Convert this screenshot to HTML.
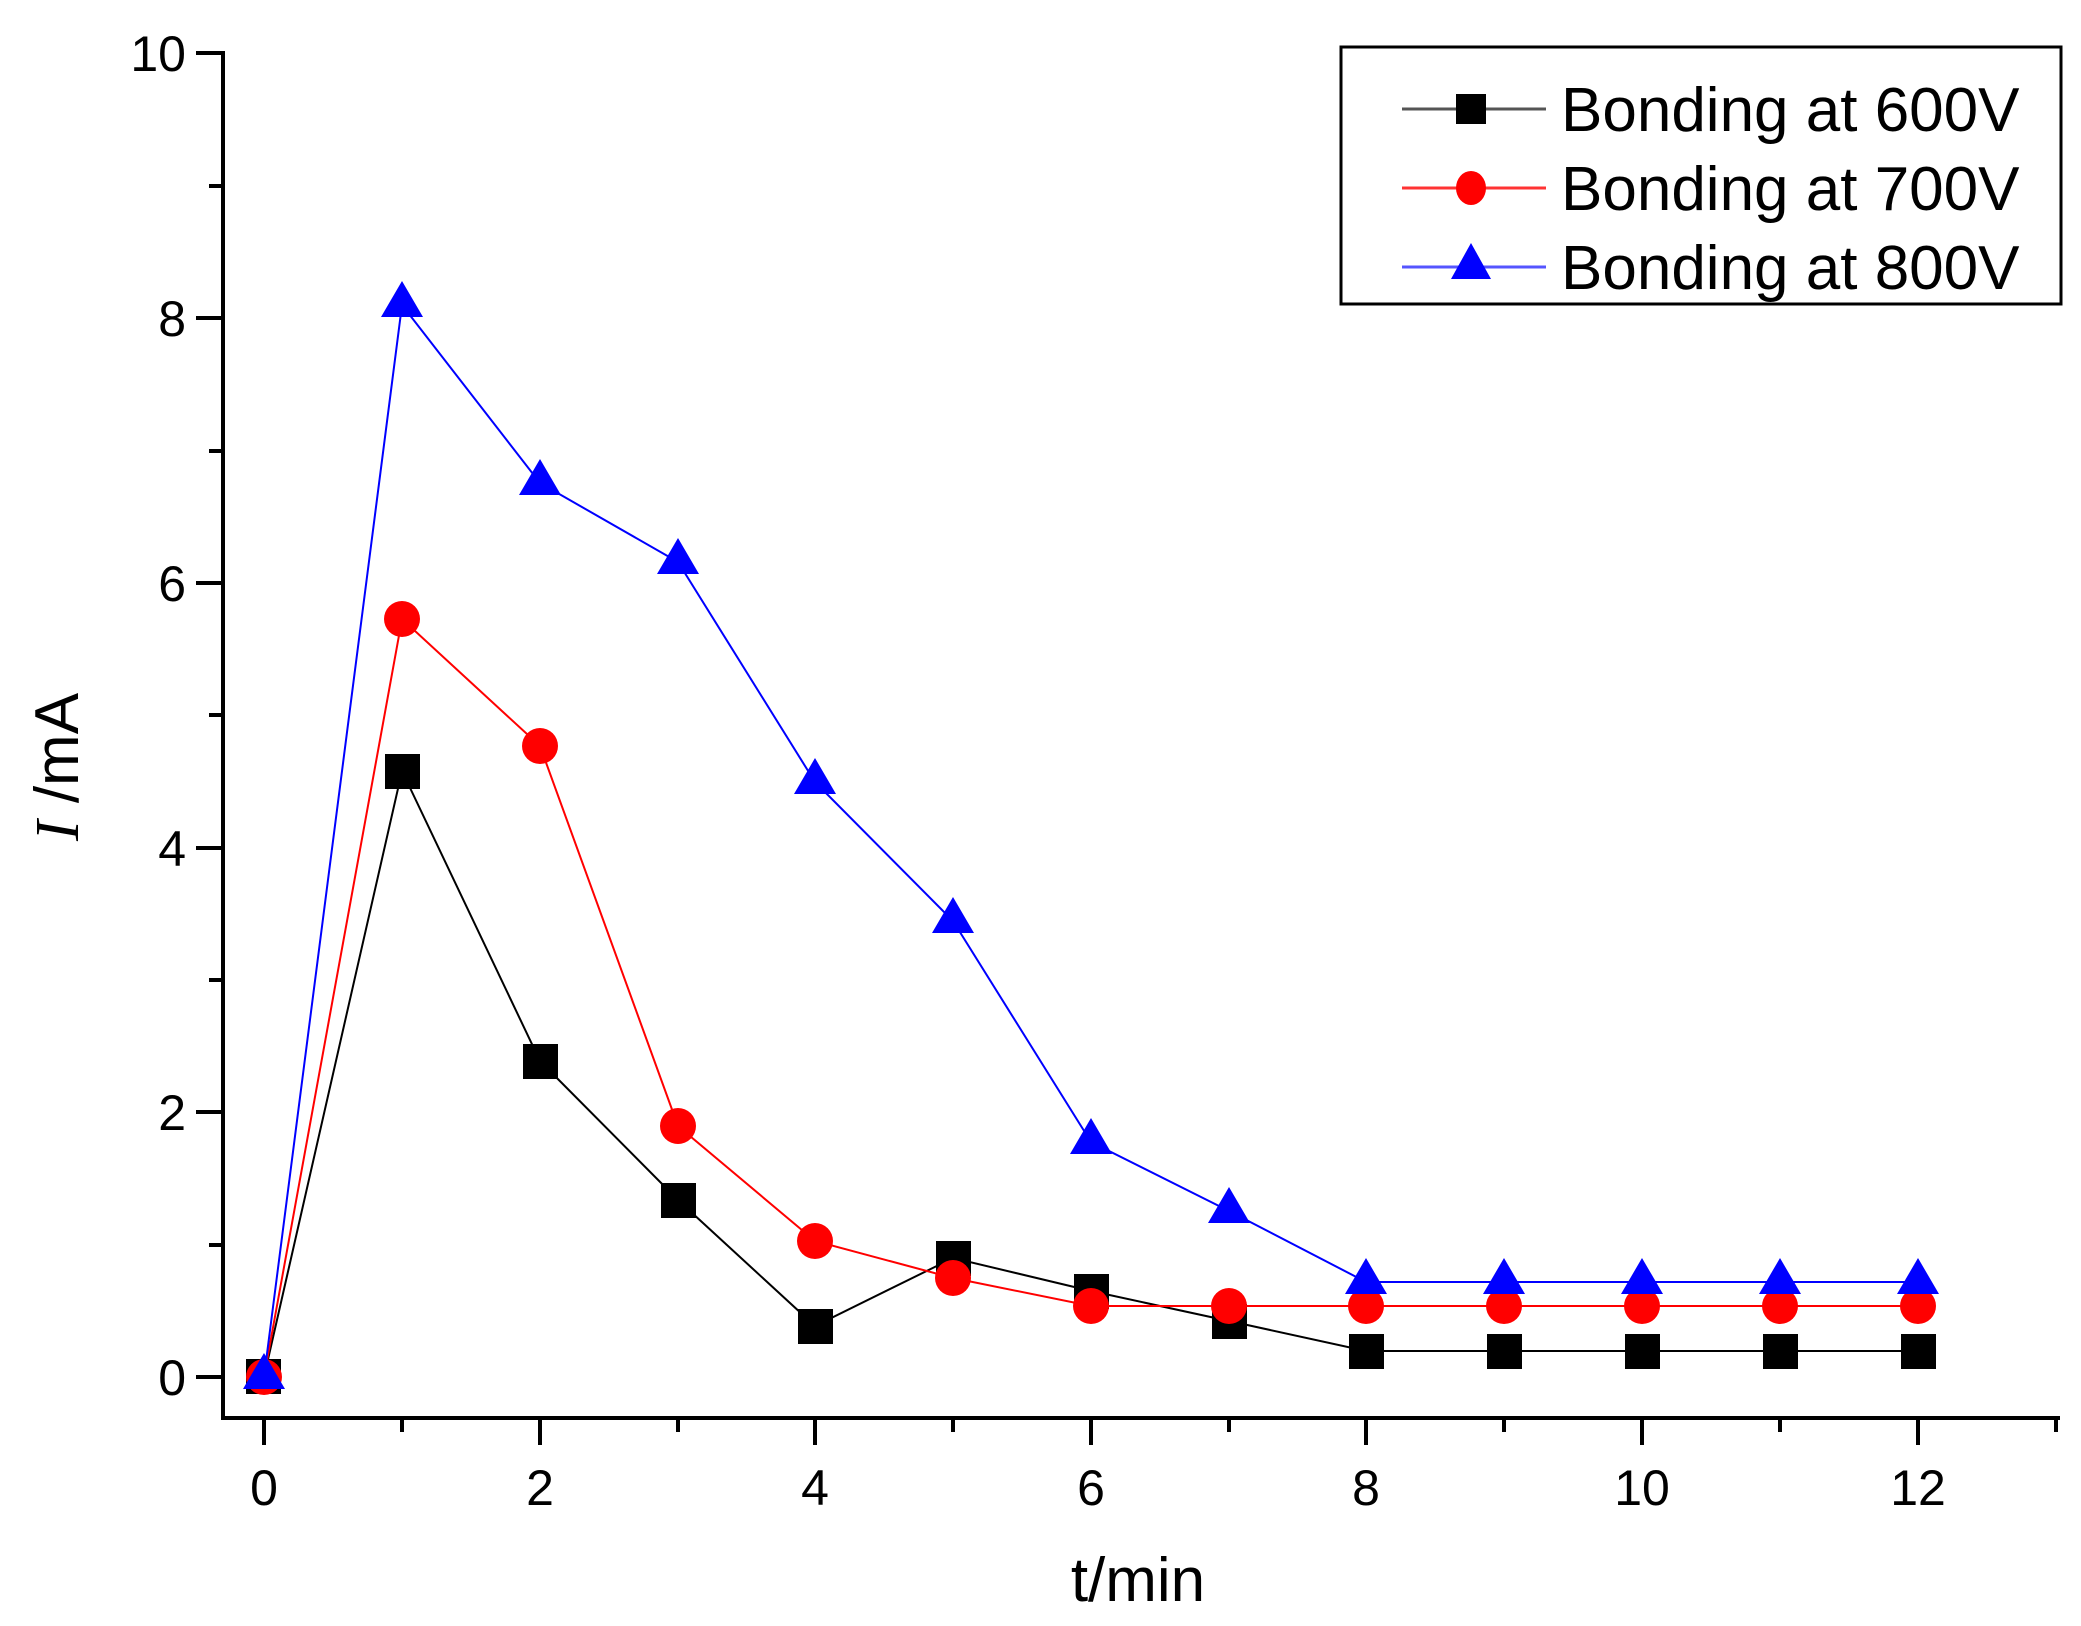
<!DOCTYPE html>
<html><head><meta charset="utf-8"><style>html,body{margin:0;padding:0;background:#fff}svg{display:block}</style></head><body>
<svg width="2081" height="1626" xmlns="http://www.w3.org/2000/svg" font-family="Liberation Sans, Arial, sans-serif">
<rect width="2081" height="1626" fill="#fff"/>
<g stroke="#000" stroke-width="4" fill="none">
<line x1="223" y1="51" x2="223" y2="1420"/>
<line x1="221" y1="1418" x2="2060" y2="1418"/>
</g>
<g stroke="#000" stroke-width="4">
<line x1="196" y1="53" x2="223" y2="53"/>
<line x1="196" y1="318" x2="223" y2="318"/>
<line x1="196" y1="583" x2="223" y2="583"/>
<line x1="196" y1="848" x2="223" y2="848"/>
<line x1="196" y1="1112" x2="223" y2="1112"/>
<line x1="196" y1="1377" x2="223" y2="1377"/>
<line x1="209" y1="186" x2="223" y2="186"/>
<line x1="209" y1="451" x2="223" y2="451"/>
<line x1="209" y1="715" x2="223" y2="715"/>
<line x1="209" y1="980" x2="223" y2="980"/>
<line x1="209" y1="1245" x2="223" y2="1245"/>
<line x1="264" y1="1418" x2="264" y2="1445"/>
<line x1="540" y1="1418" x2="540" y2="1445"/>
<line x1="815" y1="1418" x2="815" y2="1445"/>
<line x1="1091" y1="1418" x2="1091" y2="1445"/>
<line x1="1366" y1="1418" x2="1366" y2="1445"/>
<line x1="1642" y1="1418" x2="1642" y2="1445"/>
<line x1="1918" y1="1418" x2="1918" y2="1445"/>
<line x1="402" y1="1418" x2="402" y2="1432"/>
<line x1="678" y1="1418" x2="678" y2="1432"/>
<line x1="953" y1="1418" x2="953" y2="1432"/>
<line x1="1229" y1="1418" x2="1229" y2="1432"/>
<line x1="1504" y1="1418" x2="1504" y2="1432"/>
<line x1="1780" y1="1418" x2="1780" y2="1432"/>
<line x1="2056" y1="1418" x2="2056" y2="1432"/>
</g>
<g font-size="50" fill="#000" text-anchor="end">
<text x="186" y="71">10</text>
<text x="186" y="336">8</text>
<text x="186" y="601">6</text>
<text x="186" y="866">4</text>
<text x="186" y="1130">2</text>
<text x="186" y="1395">0</text>
</g>
<g font-size="50" fill="#000" text-anchor="middle">
<text x="264" y="1505">0</text>
<text x="540" y="1505">2</text>
<text x="815" y="1505">4</text>
<text x="1091" y="1505">6</text>
<text x="1366" y="1505">8</text>
<text x="1642" y="1505">10</text>
<text x="1918" y="1505">12</text>
</g>
<text x="1138" y="1601" font-size="62" text-anchor="middle">t/min</text>
<text transform="translate(78,767) rotate(-90)" font-size="62" text-anchor="middle"><tspan font-family="Liberation Serif, serif" font-style="italic">I</tspan> /mA</text>

<polyline fill="none" stroke="#000" stroke-width="2" points="264,1377 402,771 540,1061 678,1200 815,1326 953,1258 1091,1291 1229,1321 1366,1351 1504,1351 1642,1351 1780,1351 1918,1351"/>
<g fill="#000">
<rect x="246" y="1359" width="35" height="35"/><rect x="385" y="754" width="35" height="35"/><rect x="523" y="1044" width="35" height="35"/><rect x="661" y="1183" width="35" height="35"/><rect x="798" y="1309" width="35" height="35"/><rect x="936" y="1241" width="35" height="35"/><rect x="1074" y="1274" width="35" height="35"/><rect x="1212" y="1304" width="35" height="35"/><rect x="1349" y="1334" width="35" height="35"/><rect x="1487" y="1334" width="35" height="35"/><rect x="1625" y="1334" width="35" height="35"/><rect x="1763" y="1334" width="35" height="35"/><rect x="1901" y="1334" width="35" height="35"/>
</g>
<polyline fill="none" stroke="#f00" stroke-width="2" points="264,1377 402,619 540,746 678,1126 815,1241 953,1278 1091,1306 1229,1306 1366,1306 1504,1306 1642,1306 1780,1306 1918,1306"/>
<g fill="#f00">
<circle cx="264" cy="1377" r="18"/><circle cx="402" cy="619" r="18"/><circle cx="540" cy="746" r="18"/><circle cx="678" cy="1126" r="18"/><circle cx="815" cy="1241" r="18"/><circle cx="953" cy="1278" r="18"/><circle cx="1091" cy="1306" r="18"/><circle cx="1229" cy="1306" r="18"/><circle cx="1366" cy="1306" r="18"/><circle cx="1504" cy="1306" r="18"/><circle cx="1642" cy="1306" r="18"/><circle cx="1780" cy="1306" r="18"/><circle cx="1918" cy="1306" r="18"/>
</g>
<polyline fill="none" stroke="#00f" stroke-width="2" points="264,1377 402,305 540,483 678,562 815,782 953,921 1091,1142 1229,1211 1366,1282 1504,1282 1642,1282 1780,1282 1918,1282"/>
<g fill="#00f">
<polygon points="264,1353 285,1389 243,1389"/><polygon points="402,281 423,317 381,317"/><polygon points="540,459 561,495 519,495"/><polygon points="678,538 699,574 657,574"/><polygon points="815,758 836,794 794,794"/><polygon points="953,897 974,933 932,933"/><polygon points="1091,1118 1112,1154 1070,1154"/><polygon points="1229,1187 1250,1223 1208,1223"/><polygon points="1366,1258 1387,1294 1345,1294"/><polygon points="1504,1258 1525,1294 1483,1294"/><polygon points="1642,1258 1663,1294 1621,1294"/><polygon points="1780,1258 1801,1294 1759,1294"/><polygon points="1918,1258 1939,1294 1897,1294"/>
</g>
<rect x="1341" y="47" width="720" height="257" fill="#fff" stroke="#000" stroke-width="3"/>
<line x1="1402" y1="109" x2="1546" y2="109" stroke="#555" stroke-width="3"/>
<rect x="1456" y="94" width="30" height="30" fill="#000"/>
<line x1="1402" y1="188" x2="1546" y2="188" stroke="#f33" stroke-width="3"/>
<ellipse cx="1471" cy="188" rx="15" ry="17" fill="#f00"/>
<line x1="1402" y1="267" x2="1546" y2="267" stroke="#55f" stroke-width="3"/>
<polygon points="1471,243 1491,279 1451,279" fill="#00f"/>
<g font-size="62" fill="#000">
<text x="1561" y="131">Bonding at 600V</text>
<text x="1561" y="210">Bonding at 700V</text>
<text x="1561" y="289">Bonding at 800V</text>
</g>
</svg>
</body></html>
